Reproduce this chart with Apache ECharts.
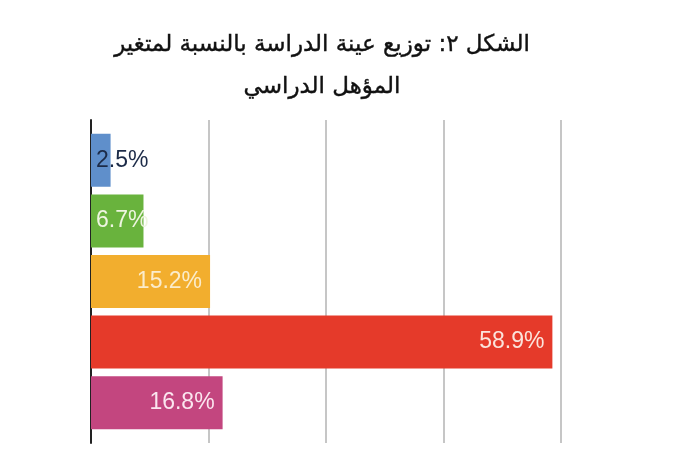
<!DOCTYPE html>
<html>
<head>
<meta charset="utf-8">
<script src="https://cdn.jsdelivr.net/npm/echarts@6/dist/echarts.min.js"></script>
<style>html,body{margin:0;padding:0;background:#fff;}#c{width:700px;height:450px;}</style>
</head>
<body>
<div id="c"></div>
<script>
var titleLines = ['الشكل ٢: توزيع عينة الدراسة بالنسبة لمتغير', 'المؤهل الدراسي'];
var categories = ['a', 'b', 'c', 'd', 'e'];
var values = [2.5, 6.7, 15.2, 58.9, 16.8];
var colors = ['#5f8fcb', '#69b33d', '#f2ae2e', '#e53a2a', '#c3467f'];
var labelColors = ['#1c2b48', '#eef5e0', '#fbeccb', '#fbe4dc', '#fbe6ef'];
var labelPos = ['insideLeft', 'insideLeft', 'insideRight', 'insideRight', 'insideRight'];
var xTicks = [0, 15, 30, 45, 60];

var chart = echarts.init(document.getElementById('c'));
chart.setOption({
  animation: false,
  title: {
    text: titleLines.join('\n'),
    left: 317,
    textAlign: 'center',
    top: 19,
    textStyle: { fontFamily: 'DejaVu Sans', fontSize: 23, fontWeight: 'normal', color: '#111', lineHeight: 42,
      textBorderColor: '#111', textBorderWidth: 0.4 }
  },
  grid: [
    { left: 91, right: 139, top: 130, bottom: 17 },
    { left: 91, right: 139, top: 120, bottom: 7 }
  ],
  xAxis: [
    { gridIndex: 0, type: 'value', min: xTicks[0], max: xTicks[xTicks.length - 1], interval: 15,
      axisLine: { show: false }, axisTick: { show: false }, axisLabel: { show: false }, splitLine: { show: false } },
    { gridIndex: 1, type: 'value', min: xTicks[0], max: xTicks[xTicks.length - 1], interval: 15,
      axisLine: { show: false }, axisTick: { show: false }, axisLabel: { show: false },
      splitLine: { show: true, lineStyle: { color: '#b3b3b3', width: 1.5 } } }
  ],
  yAxis: [
    { gridIndex: 0, type: 'category', data: categories, inverse: true,
      axisLine: { show: false }, axisTick: { show: false }, axisLabel: { show: false } },
    { gridIndex: 1, type: 'value', min: 0, max: 1,
      axisLine: { show: true, lineStyle: { color: '#222', width: 2 } }, axisTick: { show: false }, axisLabel: { show: false }, splitLine: { show: false } }
  ],
  series: [{
    type: 'bar',
    xAxisIndex: 0, yAxisIndex: 0,
    barWidth: 53,
    z: 3,
    data: values.map(function (v, i) {
      return {
        value: v,
        itemStyle: { color: colors[i] },
        label: { show: true, position: labelPos[i], distance: i < 2 ? 5 : 8, color: labelColors[i],
          formatter: v.toFixed(1) + '%', fontFamily: 'Liberation Sans', fontSize: 23 }
      };
    })
  }]
});
</script>
</body>
</html>
